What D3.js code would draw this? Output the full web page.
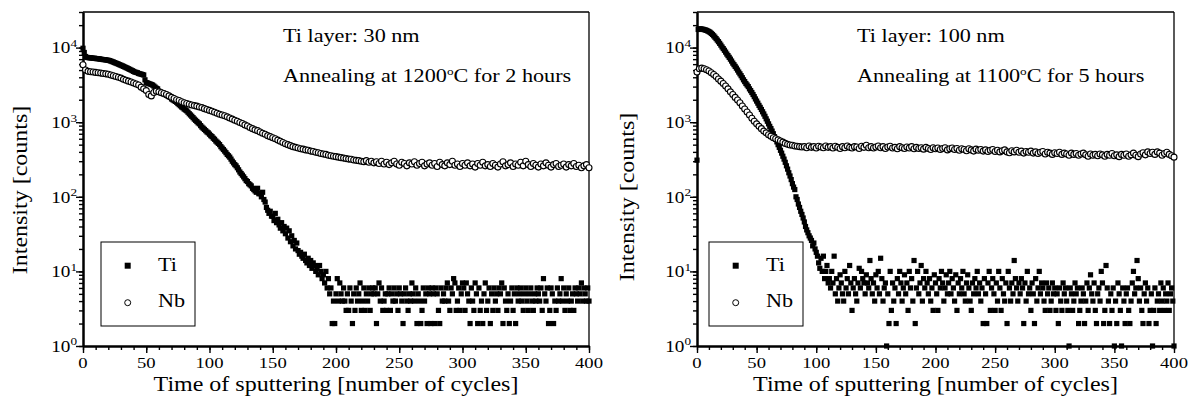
<!DOCTYPE html>
<html>
<head>
<meta charset="utf-8">
<script src="https://cdn.jsdelivr.net/npm/d3@7"></script>
<style>
	body { margin: 0; background: #fff; }
	svg { display: block; font-family: "Liberation Serif", "Times New Roman", serif; }
</style>
</head>
<body>
<div id="chart"></div>
<script>
// cycles: Ti sampled every cycle, Nb every second cycle
var tiCycles = d3.range(0, 401);
var nbCycles = d3.range(0, 401, 2);
var xTicks = [0, 50, 100, 150, 200, 250, 300, 350, 400];
var xMinorTicks = d3.range(0, 401, 10);
var yDecades = [1, 10, 100, 1000, 10000];
var yExponents = ["0", "1", "2", "3", "4"];
var seriesNames = ["Ti", "Nb"];

// left panel: 30 nm, 1200 C, 2 h
var tiLeft = [
	9800, 8600, 7600, 7400, 7350, 7300, 7300, 7250, 7200, 7200,
	7150, 7100, 7100, 7050, 7000, 6950, 6900, 6900, 6850, 6800,
	6750, 6700, 6600, 6500, 6400, 6300, 6200, 6100, 6000, 5900,
	5800, 5700, 5600, 5500, 5400, 5300, 5200, 5100, 5000, 4900,
	4800, 4700, 4650, 4600, 4500, 4450, 4400, 4350, 4300, 3700,
	3400, 3350, 3300, 3250, 3200, 3150, 3050, 2950, 2850, 2800,
	2600, 2550, 2500, 2450, 2400, 2350, 2300, 2250, 2200, 2150,
	2050, 2000, 1950, 1900, 1850, 1780, 1720, 1660, 1600, 1560,
	1500, 1460, 1420, 1360, 1300, 1250, 1200, 1150, 1100, 1060,
	1020, 980, 950, 900, 860, 830, 800, 770, 740, 720,
	690, 660, 640, 610, 590, 560, 540, 520, 500, 470,
	450, 430, 410, 390, 370, 355, 340, 320, 300, 285,
	270, 260, 245, 230, 215, 205, 195, 185, 175, 165,
	160, 150, 145, 140, 130, 125, 120, 115, 130, 110,
	110, 100, 115, 92, 85, 72, 66, 60, 64, 55,
	55, 48, 60, 45, 50, 42, 38, 45, 35, 40,
	32, 38, 28, 35, 25, 30, 22, 26, 20, 24,
	19, 17, 18, 16, 15, 17, 14, 13, 15, 12,
	14, 11, 13, 12, 10, 11, 9, 12, 10, 8,
	9, 7, 10, 6, 8, 5, 6, 2, 4, 2,
	5, 8, 4, 7, 5, 4, 6, 4, 3, 5,
	3, 6, 4, 2, 5, 3, 6, 4, 5, 7,
	3, 4, 6, 3, 5, 4, 6, 3, 5, 6,
	5, 6, 2, 5, 7, 4, 6, 3, 4, 5,
	3, 5, 6, 3, 5, 4, 6, 4, 5, 3,
	6, 5, 4, 2, 5, 6, 4, 3, 5, 4,
	7, 5, 4, 6, 2, 5, 4, 2, 3, 6,
	4, 5, 2, 6, 5, 2, 6, 5, 2, 6,
	5, 3, 2, 6, 4, 5, 4, 6, 7, 4,
	3, 6, 5, 8, 7, 3, 4, 6, 3, 5,
	7, 6, 3, 7, 5, 4, 2, 6, 4, 3,
	7, 5, 2, 6, 3, 4, 2, 5, 7, 3,
	4, 6, 2, 5, 3, 6, 4, 5, 3, 6,
	5, 7, 2, 6, 4, 3, 5, 2, 4, 6,
	3, 5, 2, 6, 4, 5, 6, 4, 3, 5,
	6, 4, 3, 5, 6, 4, 3, 5, 4, 6,
	5, 4, 6, 3, 8, 5, 4, 6, 2, 3,
	6, 5, 2, 4, 3, 6, 4, 5, 8, 4,
	6, 3, 5, 4, 6, 3, 4, 5, 3, 6,
	5, 4, 6, 5, 7, 4, 6, 5, 4, 6,
	4
];
var nbLeft = [
	5900, 5000, 4800, 4750, 4700, 4650, 4600, 4550, 4500, 4450,
	4400, 4300, 4200, 4100, 4000, 3900, 3750, 3650, 3550, 3450,
	3350, 3250, 3150, 2950, 2800, 2650, 2350, 2250, 2500, 2600,
	2550, 2480, 2420, 2350, 2250, 2150, 2080, 2000, 1950, 1880,
	1820, 1780, 1740, 1700, 1670, 1640, 1600, 1570, 1520, 1480,
	1440, 1400, 1360, 1320, 1280, 1250, 1220, 1180, 1140, 1100,
	1060, 1030, 990, 960, 920, 890, 850, 820, 790, 770,
	740, 710, 690, 660, 640, 620, 600, 575, 555, 535,
	515, 500, 485, 470, 460, 450, 440, 435, 425, 420,
	410, 405, 395, 390, 380, 375, 370, 360, 355, 350,
	345, 340, 335, 330, 325, 320, 318, 312, 308, 305,
	300, 296, 305, 290, 300, 285, 295, 280, 300, 275,
	290, 270, 285, 300, 275, 265, 290, 280, 260, 285,
	275, 295, 265, 280, 290, 260, 275, 285, 265, 280,
	255, 290, 270, 260, 285, 270, 300, 265, 275, 255,
	280, 265, 285, 260, 275, 250, 280, 265, 290, 260,
	270, 255, 280, 265, 250, 275, 295, 260, 270, 285,
	255, 275, 265, 290, 260, 300, 270, 255, 280, 265,
	250, 275, 260, 285, 265, 250, 270, 280, 255, 265,
	275, 250, 270, 260, 280, 255, 265, 245, 260, 270,
	245
];

// right panel: 100 nm, 1100 C, 5 h
var tiRight = [
	310, 17500, 17800, 17800, 17700, 17600, 17400, 17200, 17000, 16700,
	16400, 16000, 15500, 15000, 14400, 13800, 13200, 12600, 12000, 11400,
	10800, 10200, 9700, 9200, 8700, 8200, 7800, 7400, 7000, 6600,
	6200, 5900, 5600, 5300, 5000, 4700, 4450, 4200, 3950, 3700,
	3500, 3300, 3150, 3000, 2800, 2650, 2500, 2350, 2200, 2050,
	1920, 1800, 1680, 1580, 1480, 1380, 1290, 1200, 1110, 1030,
	950, 880, 820, 760, 700, 640, 590, 545, 500, 460,
	420, 385, 350, 320, 290, 260, 235, 210, 190, 170,
	150, 135, 125, 100, 92, 80, 72, 64, 58, 52,
	46, 40, 36, 33, 30, 28, 26, 22, 24, 20,
	18, 16, 13, 11, 15, 10, 16, 8, 10, 12,
	7, 8, 6, 10, 7, 16, 5, 8, 4, 6,
	9, 7, 5, 4, 10, 6, 8, 5, 12, 7,
	3, 6, 8, 5, 4, 7, 11, 6, 10, 8,
	7, 5, 9, 7, 6, 14, 8, 5, 7, 4,
	9, 6, 10, 5, 15, 8, 4, 6, 7, 1,
	5, 2, 10, 3, 7, 4, 6, 2, 8, 5,
	10, 7, 4, 6, 9, 5, 7, 3, 10, 6,
	8, 4, 14, 2, 6, 10, 5, 7, 12, 4,
	8, 6, 10, 7, 5, 8, 4, 6, 3, 9,
	7, 5, 3, 8, 6, 10, 7, 4, 6, 9,
	5, 7, 10, 5, 8, 6, 4, 9, 3, 7,
	5, 8, 6, 10, 5, 4, 7, 9, 6, 4,
	3, 7, 5, 8, 6, 10, 5, 7, 4, 6,
	2, 8, 5, 2, 7, 10, 3, 6, 8, 5,
	3, 7, 4, 10, 6, 3, 8, 5, 4, 7,
	2, 10, 6, 4, 7, 5, 14, 8, 6, 4,
	7, 5, 8, 6, 2, 7, 4, 10, 5, 6,
	3, 7, 5, 2, 8, 4, 6, 10, 5, 7,
	6, 4, 3, 7, 5, 6, 3, 4, 7, 5,
	6, 3, 5, 2, 6, 4, 3, 7, 5, 6,
	4, 3, 1, 6, 5, 3, 4, 7, 5, 6,
	2, 3, 4, 6, 5, 2, 4, 7, 3, 6,
	9, 5, 4, 7, 3, 2, 5, 6, 4, 10,
	7, 2, 3, 12, 6, 4, 2, 5, 3, 6,
	1, 4, 2, 7, 5, 3, 1, 6, 4, 2,
	5, 6, 3, 2, 4, 7, 10, 5, 6, 14,
	8, 4, 6, 3, 2, 5, 7, 4, 6, 2,
	3, 5, 1, 3, 6, 2, 4, 5, 3, 7,
	4, 6, 3, 5, 4, 7, 3, 5, 6, 4,
	1
];
var nbRight = [
	4700, 5200, 5300, 5200, 5050, 4850, 4600, 4350, 4100, 3800,
	3550, 3300, 3050, 2800, 2550, 2350, 2150, 1980, 1820, 1650,
	1500, 1370, 1250, 1130, 1030, 950, 880, 820, 760, 720,
	680, 650, 620, 600, 580, 560, 540, 520, 505, 495,
	490, 480, 475, 470, 465, 470, 455, 480, 460, 470,
	450, 475, 465, 455, 480, 460, 470, 450, 475, 460,
	445, 470, 455, 480, 460, 450, 470, 465, 445, 475,
	460, 490, 455, 470, 450, 465, 480, 455, 470, 445,
	465, 475, 450, 460, 440, 470, 455, 445, 465, 450,
	470, 440, 460, 445, 455, 435, 460, 445, 430, 455,
	440, 450, 430, 445, 455, 425, 440, 450, 430, 445,
	420, 440, 430, 415, 440, 425, 410, 435, 420, 430,
	410, 425, 405, 420, 430, 405, 420, 400, 415, 425,
	400, 390, 415, 400, 420, 395, 410, 385, 405, 395,
	410, 385, 400, 380, 395, 405, 375, 395, 385, 370,
	390, 380, 395, 370, 385, 375, 360, 385, 370, 380,
	360, 375, 385, 365, 350, 375, 360, 370, 355, 375,
	365, 350, 370, 360, 380, 355, 365, 345, 370, 360,
	375, 350, 365, 385, 360, 345, 375, 390, 365, 400,
	380, 395, 370, 400, 385, 360, 380, 395, 370, 355,
	340
];

var STRETCH = 1.2;   // the original serif face is wide, stretch along the text
var W = 1191, H = 398;

var svg = d3.select("#chart").append("svg")
	.attr("width", W)
	.attr("height", H);
svg.append("rect").attr("width", W).attr("height", H).attr("fill", "#fff");

function stretched(parent, px, py, size, anchor, rotate) {
	var g = parent.append("g")
		.attr("transform", "translate(" + px + "," + py + ")" + (rotate ? " rotate(-90)" : ""));
	return g.append("text")
		.attr("transform", "scale(" + STRETCH + ",1)")
		.attr("text-anchor", anchor)
		.attr("fill", "#000")
		.style("font-size", size + "px");
}

function drawPanel(p) {
	var x = d3.scaleLinear().domain([0, 400]).range([p.left, p.right]);
	var y = d3.scaleLog().domain([1, 3e4]).range([346, 12]);
	var g = svg.append("g");

	// frame top / right
	g.append("line")
		.attr("x1", x(0)).attr("x2", x(400))
		.attr("y1", y(3e4)).attr("y2", y(3e4))
		.attr("stroke", "#000").attr("stroke-width", 1.3);
	g.append("line")
		.attr("x1", x(400)).attr("x2", x(400))
		.attr("y1", y(3e4)).attr("y2", y(1))
		.attr("stroke", "#000").attr("stroke-width", 1.3);

	// x axis, minor then major
	g.append("g").attr("transform", "translate(0," + y(1) + ")")
		.call(d3.axisBottom(x).tickValues(xMinorTicks).tickSize(4).tickSizeOuter(0).tickFormat(""));
	g.append("g").attr("transform", "translate(0," + y(1) + ")")
		.call(d3.axisBottom(x).tickValues(xTicks).tickSize(7).tickSizeOuter(0).tickFormat(""));
	// y axis
	g.append("g").attr("transform", "translate(" + x(0) + ",0)")
		.call(d3.axisLeft(y).tickValues(y.ticks()).tickSize(4).tickSizeOuter(0).tickFormat(""));
	g.append("g").attr("transform", "translate(" + x(0) + ",0)")
		.call(d3.axisLeft(y).tickValues(yDecades).tickSize(7).tickSizeOuter(0).tickFormat(""));
	g.selectAll(".domain").attr("stroke", "#000").attr("stroke-width", 2);
	g.selectAll(".tick line").attr("stroke", "#000").attr("stroke-width", 1.4);

	xTicks.forEach(function (v) {
		stretched(g, x(v), y(1) + 22, 15.5, "middle").text(v);
	});
	yDecades.forEach(function (v, i) {
		var t = stretched(g, x(0) - 6, y(v) + 5.8, 16, "end");
		t.append("tspan").text("10");
		t.append("tspan").attr("dy", -6.5).style("font-size", "11px").text(yExponents[i]);
	});

	// axis titles
	stretched(g, (p.left + p.right) / 2, 391, 20, "middle").text("Time of sputtering [number of cycles]");
	stretched(g, p.ylabX, p.ylabY, 20, "middle", true).text("Intensity [counts]");

	// Ti squares, then Nb circles on top
	var sq = 5.2;
	g.append("g").selectAll("rect")
		.data(p.ti)
		.enter().append("rect")
		.attr("x", function (d, i) { return x(tiCycles[i]) - sq / 2; })
		.attr("y", function (d) { return y(d) - sq / 2; })
		.attr("width", sq).attr("height", sq)
		.attr("fill", "#000");
	g.append("g").selectAll("circle")
		.data(p.nb)
		.enter().append("circle")
		.attr("cx", function (d, i) { return x(nbCycles[i]); })
		.attr("cy", function (d) { return y(d); })
		.attr("r", 3)
		.attr("fill", "#fff")
		.attr("stroke", "#000")
		.attr("stroke-width", 1.1);

	// legend
	var lx = p.left + p.legendOffset;
	g.append("rect")
		.attr("x", lx).attr("y", 242)
		.attr("width", 94).attr("height", 84)
		.attr("fill", "none").attr("stroke", "#000").attr("stroke-width", 1);
	g.append("rect")
		.attr("x", lx + 26.7 - 3).attr("y", 265.7 - 3)
		.attr("width", 6).attr("height", 6).attr("fill", "#000");
	g.append("circle")
		.attr("cx", lx + 26.7).attr("cy", 302.7).attr("r", 3)
		.attr("fill", "#fff").attr("stroke", "#000").attr("stroke-width", 1);
	stretched(g, lx + 57, 270.7, 18.5, "start").text(seriesNames[0]);
	stretched(g, lx + 57, 307.3, 18.5, "start").text(seriesNames[1]);

	// notes
	stretched(g, p.noteX, 42, 18.5, "start").text(p.layer);
	var n = stretched(g, p.noteX, 82, 18.5, "start");
	n.append("tspan").text("Annealing at " + p.temp);
	n.append("tspan").attr("dy", -7).style("font-size", "11px").text("o");
	n.append("tspan").attr("dy", 7).text("C for " + p.hours);
}

drawPanel({
	left: 83, right: 589, ylabX: 27, ylabY: 190, legendOffset: 18, noteX: 283,
	ti: tiLeft, nb: nbLeft,
	layer: "Ti layer: 30 nm", temp: "1200", hours: "2 hours"
});
drawPanel({
	left: 697, right: 1174, ylabX: 634, ylabY: 197, legendOffset: 12, noteX: 857,
	ti: tiRight, nb: nbRight,
	layer: "Ti layer: 100 nm", temp: "1100", hours: "5 hours"
});
</script>
</body>
</html>
